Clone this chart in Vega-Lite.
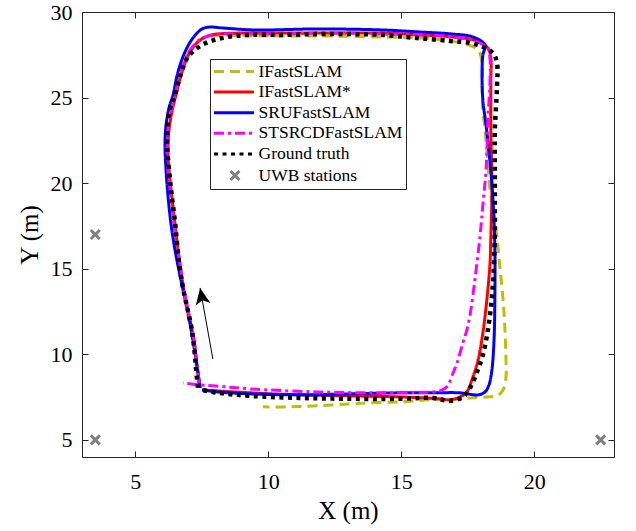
{
  "$schema": "https://vega.github.io/schema/vega-lite/v6.json",
  "width": 532,
  "height": 445,
  "autosize": {"type": "none"},
  "padding": {"left": 82, "top": 12, "right": 22, "bottom": 74},
  "background": "#ffffff",
  "config": {
    "view": {"stroke": "#262626", "strokeWidth": 1},
    "font": "Liberation Serif",
    "axis": {
      "labelFont": "Liberation Serif",
      "titleFont": "Liberation Serif",
      "labelFontSize": 22,
      "titleFontSize": 25,
      "labelColor": "#000000",
      "titleColor": "#000000",
      "titleFontWeight": "normal",
      "grid": false,
      "domain": false,
      "tickColor": "#262626",
      "tickWidth": 1
    },
    "legend": {
      "orient": "none",
      "legendX": 128,
      "legendY": 47,
      "padding": 3,
      "strokeColor": "#262626",
      "fillColor": "#ffffff",
      "labelFont": "Liberation Serif",
      "labelFontSize": 17.5,
      "labelColor": "#000000",
      "labelOffset": 14,
      "labelLimit": 0,
      "symbolSize": 256,
      "symbolStrokeWidth": 3,
      "symbolOffset": 12.5,
      "rowPadding": 2.6
    }
  },
  "datasets": {
    "traj": [
      {"series": "IFastSLAM", "i": 1, "x": 7.40, "y": 8.10},
      {"series": "IFastSLAM", "i": 2, "x": 7.29, "y": 9.38},
      {"series": "IFastSLAM", "i": 3, "x": 7.17, "y": 10.84},
      {"series": "IFastSLAM", "i": 4, "x": 6.98, "y": 12.30},
      {"series": "IFastSLAM", "i": 5, "x": 6.80, "y": 13.76},
      {"series": "IFastSLAM", "i": 6, "x": 6.61, "y": 15.63},
      {"series": "IFastSLAM", "i": 7, "x": 6.46, "y": 17.56},
      {"series": "IFastSLAM", "i": 8, "x": 6.35, "y": 19.19},
      {"series": "IFastSLAM", "i": 9, "x": 6.23, "y": 20.77},
      {"series": "IFastSLAM", "i": 10, "x": 6.20, "y": 21.94},
      {"series": "IFastSLAM", "i": 11, "x": 6.23, "y": 23.11},
      {"series": "IFastSLAM", "i": 12, "x": 6.35, "y": 24.16},
      {"series": "IFastSLAM", "i": 13, "x": 6.50, "y": 25.15},
      {"series": "IFastSLAM", "i": 14, "x": 6.72, "y": 26.50},
      {"series": "IFastSLAM", "i": 15, "x": 7.02, "y": 27.66},
      {"series": "IFastSLAM", "i": 16, "x": 7.40, "y": 28.31},
      {"series": "IFastSLAM", "i": 17, "x": 7.89, "y": 28.60},
      {"series": "IFastSLAM", "i": 18, "x": 9.50, "y": 28.60},
      {"series": "IFastSLAM", "i": 19, "x": 11.83, "y": 28.60},
      {"series": "IFastSLAM", "i": 20, "x": 14.31, "y": 28.54},
      {"series": "IFastSLAM", "i": 21, "x": 15.71, "y": 28.48},
      {"series": "IFastSLAM", "i": 22, "x": 16.57, "y": 28.36},
      {"series": "IFastSLAM", "i": 23, "x": 17.40, "y": 28.13},
      {"series": "IFastSLAM", "i": 24, "x": 17.89, "y": 27.78},
      {"series": "IFastSLAM", "i": 25, "x": 18.04, "y": 27.02},
      {"series": "IFastSLAM", "i": 26, "x": 18.04, "y": 25.62},
      {"series": "IFastSLAM", "i": 27, "x": 18.07, "y": 24.28},
      {"series": "IFastSLAM", "i": 28, "x": 18.15, "y": 23.11},
      {"series": "IFastSLAM", "i": 29, "x": 18.26, "y": 21.18},
      {"series": "IFastSLAM", "i": 30, "x": 18.34, "y": 19.60},
      {"series": "IFastSLAM", "i": 31, "x": 18.49, "y": 18.14},
      {"series": "IFastSLAM", "i": 32, "x": 18.60, "y": 16.86},
      {"series": "IFastSLAM", "i": 33, "x": 18.71, "y": 15.11},
      {"series": "IFastSLAM", "i": 34, "x": 18.83, "y": 13.18},
      {"series": "IFastSLAM", "i": 35, "x": 18.90, "y": 11.43},
      {"series": "IFastSLAM", "i": 36, "x": 18.94, "y": 9.67},
      {"series": "IFastSLAM", "i": 37, "x": 18.94, "y": 8.68},
      {"series": "IFastSLAM", "i": 38, "x": 18.83, "y": 7.92},
      {"series": "IFastSLAM", "i": 39, "x": 18.60, "y": 7.57},
      {"series": "IFastSLAM", "i": 40, "x": 18.22, "y": 7.51},
      {"series": "IFastSLAM", "i": 41, "x": 17.59, "y": 7.45},
      {"series": "IFastSLAM", "i": 42, "x": 16.83, "y": 7.34},
      {"series": "IFastSLAM", "i": 43, "x": 16.08, "y": 7.34},
      {"series": "IFastSLAM", "i": 44, "x": 14.95, "y": 7.22},
      {"series": "IFastSLAM", "i": 45, "x": 13.83, "y": 7.16},
      {"series": "IFastSLAM", "i": 46, "x": 13.07, "y": 7.10},
      {"series": "IFastSLAM", "i": 47, "x": 11.83, "y": 6.99},
      {"series": "IFastSLAM", "i": 48, "x": 10.82, "y": 6.93},
      {"series": "IFastSLAM", "i": 49, "x": 9.80, "y": 6.93},

      {"series": "IFastSLAM*", "i": 1, "x": 7.44, "y": 8.04},
      {"series": "IFastSLAM*", "i": 2, "x": 7.32, "y": 9.38},
      {"series": "IFastSLAM*", "i": 3, "x": 7.21, "y": 10.84},
      {"series": "IFastSLAM*", "i": 4, "x": 7.02, "y": 12.30},
      {"series": "IFastSLAM*", "i": 5, "x": 6.83, "y": 13.76},
      {"series": "IFastSLAM*", "i": 6, "x": 6.65, "y": 15.63},
      {"series": "IFastSLAM*", "i": 7, "x": 6.50, "y": 17.56},
      {"series": "IFastSLAM*", "i": 8, "x": 6.38, "y": 19.19},
      {"series": "IFastSLAM*", "i": 9, "x": 6.27, "y": 20.77},
      {"series": "IFastSLAM*", "i": 10, "x": 6.23, "y": 21.94},
      {"series": "IFastSLAM*", "i": 11, "x": 6.27, "y": 23.11},
      {"series": "IFastSLAM*", "i": 12, "x": 6.38, "y": 24.16},
      {"series": "IFastSLAM*", "i": 13, "x": 6.53, "y": 25.15},
      {"series": "IFastSLAM*", "i": 14, "x": 6.76, "y": 26.50},
      {"series": "IFastSLAM*", "i": 15, "x": 7.06, "y": 27.66},
      {"series": "IFastSLAM*", "i": 16, "x": 7.44, "y": 28.36},
      {"series": "IFastSLAM*", "i": 17, "x": 7.89, "y": 28.66},
      {"series": "IFastSLAM*", "i": 18, "x": 8.94, "y": 28.77},
      {"series": "IFastSLAM*", "i": 19, "x": 10.44, "y": 28.77},
      {"series": "IFastSLAM*", "i": 20, "x": 11.83, "y": 28.77},
      {"series": "IFastSLAM*", "i": 21, "x": 13.07, "y": 28.77},
      {"series": "IFastSLAM*", "i": 22, "x": 14.31, "y": 28.77},
      {"series": "IFastSLAM*", "i": 23, "x": 15.71, "y": 28.66},
      {"series": "IFastSLAM*", "i": 24, "x": 16.95, "y": 28.54},
      {"series": "IFastSLAM*", "i": 25, "x": 17.85, "y": 28.31},
      {"series": "IFastSLAM*", "i": 26, "x": 18.26, "y": 27.90},
      {"series": "IFastSLAM*", "i": 27, "x": 18.37, "y": 27.31},
      {"series": "IFastSLAM*", "i": 28, "x": 18.37, "y": 26.03},
      {"series": "IFastSLAM*", "i": 29, "x": 18.37, "y": 23.11},
      {"series": "IFastSLAM*", "i": 30, "x": 18.41, "y": 19.60},
      {"series": "IFastSLAM*", "i": 31, "x": 18.37, "y": 16.86},
      {"series": "IFastSLAM*", "i": 32, "x": 18.34, "y": 15.34},
      {"series": "IFastSLAM*", "i": 33, "x": 18.22, "y": 13.18},
      {"series": "IFastSLAM*", "i": 34, "x": 18.07, "y": 11.25},
      {"series": "IFastSLAM*", "i": 35, "x": 17.89, "y": 9.67},
      {"series": "IFastSLAM*", "i": 36, "x": 17.66, "y": 8.51},
      {"series": "IFastSLAM*", "i": 37, "x": 17.47, "y": 7.80},
      {"series": "IFastSLAM*", "i": 38, "x": 17.21, "y": 7.51},
      {"series": "IFastSLAM*", "i": 39, "x": 16.83, "y": 7.34},
      {"series": "IFastSLAM*", "i": 40, "x": 16.46, "y": 7.40},
      {"series": "IFastSLAM*", "i": 41, "x": 14.95, "y": 7.51},
      {"series": "IFastSLAM*", "i": 42, "x": 13.07, "y": 7.57},
      {"series": "IFastSLAM*", "i": 43, "x": 11.19, "y": 7.63},
      {"series": "IFastSLAM*", "i": 44, "x": 9.32, "y": 7.75},
      {"series": "IFastSLAM*", "i": 45, "x": 8.11, "y": 7.86},
      {"series": "IFastSLAM*", "i": 46, "x": 7.51, "y": 7.92},

      {"series": "SRUFastSLAM", "i": 1, "x": 7.44, "y": 8.04},
      {"series": "SRUFastSLAM", "i": 2, "x": 7.32, "y": 9.38},
      {"series": "SRUFastSLAM", "i": 3, "x": 7.17, "y": 10.84},
      {"series": "SRUFastSLAM", "i": 4, "x": 6.98, "y": 12.48},
      {"series": "SRUFastSLAM", "i": 5, "x": 6.76, "y": 14.05},
      {"series": "SRUFastSLAM", "i": 6, "x": 6.53, "y": 15.81},
      {"series": "SRUFastSLAM", "i": 7, "x": 6.35, "y": 17.56},
      {"series": "SRUFastSLAM", "i": 8, "x": 6.23, "y": 19.31},
      {"series": "SRUFastSLAM", "i": 9, "x": 6.16, "y": 20.77},
      {"series": "SRUFastSLAM", "i": 10, "x": 6.12, "y": 22.23},
      {"series": "SRUFastSLAM", "i": 11, "x": 6.16, "y": 23.40},
      {"series": "SRUFastSLAM", "i": 12, "x": 6.27, "y": 24.39},
      {"series": "SRUFastSLAM", "i": 13, "x": 6.42, "y": 25.15},
      {"series": "SRUFastSLAM", "i": 14, "x": 6.61, "y": 26.50},
      {"series": "SRUFastSLAM", "i": 15, "x": 6.87, "y": 27.66},
      {"series": "SRUFastSLAM", "i": 16, "x": 7.17, "y": 28.48},
      {"series": "SRUFastSLAM", "i": 17, "x": 7.51, "y": 29.01},
      {"series": "SRUFastSLAM", "i": 18, "x": 7.81, "y": 29.12},
      {"series": "SRUFastSLAM", "i": 19, "x": 8.26, "y": 29.07},
      {"series": "SRUFastSLAM", "i": 20, "x": 9.50, "y": 28.95},
      {"series": "SRUFastSLAM", "i": 21, "x": 11.83, "y": 29.01},
      {"series": "SRUFastSLAM", "i": 22, "x": 14.31, "y": 28.95},
      {"series": "SRUFastSLAM", "i": 23, "x": 15.71, "y": 28.83},
      {"series": "SRUFastSLAM", "i": 24, "x": 16.95, "y": 28.71},
      {"series": "SRUFastSLAM", "i": 25, "x": 17.70, "y": 28.54},
      {"series": "SRUFastSLAM", "i": 26, "x": 18.15, "y": 28.07},
      {"series": "SRUFastSLAM", "i": 27, "x": 18.07, "y": 27.49},
      {"series": "SRUFastSLAM", "i": 28, "x": 18.04, "y": 26.61},
      {"series": "SRUFastSLAM", "i": 29, "x": 18.07, "y": 24.86},
      {"series": "SRUFastSLAM", "i": 30, "x": 18.19, "y": 23.40},
      {"series": "SRUFastSLAM", "i": 31, "x": 18.34, "y": 21.18},
      {"series": "SRUFastSLAM", "i": 32, "x": 18.45, "y": 19.02},
      {"series": "SRUFastSLAM", "i": 33, "x": 18.52, "y": 16.27},
      {"series": "SRUFastSLAM", "i": 34, "x": 18.52, "y": 13.18},
      {"series": "SRUFastSLAM", "i": 35, "x": 18.49, "y": 10.84},
      {"series": "SRUFastSLAM", "i": 36, "x": 18.41, "y": 9.09},
      {"series": "SRUFastSLAM", "i": 37, "x": 18.30, "y": 8.21},
      {"series": "SRUFastSLAM", "i": 38, "x": 18.15, "y": 7.80},
      {"series": "SRUFastSLAM", "i": 39, "x": 17.89, "y": 7.63},
      {"series": "SRUFastSLAM", "i": 40, "x": 17.21, "y": 7.75},
      {"series": "SRUFastSLAM", "i": 41, "x": 16.19, "y": 7.75},
      {"series": "SRUFastSLAM", "i": 42, "x": 14.95, "y": 7.75},
      {"series": "SRUFastSLAM", "i": 43, "x": 13.07, "y": 7.69},
      {"series": "SRUFastSLAM", "i": 44, "x": 11.19, "y": 7.63},
      {"series": "SRUFastSLAM", "i": 45, "x": 9.32, "y": 7.69},
      {"series": "SRUFastSLAM", "i": 46, "x": 8.11, "y": 7.80},
      {"series": "SRUFastSLAM", "i": 47, "x": 7.51, "y": 7.92},

      {"series": "STSRCDFastSLAM", "i": 1, "x": 7.40, "y": 8.33},
      {"series": "STSRCDFastSLAM", "i": 2, "x": 7.32, "y": 9.38},
      {"series": "STSRCDFastSLAM", "i": 3, "x": 7.21, "y": 10.84},
      {"series": "STSRCDFastSLAM", "i": 4, "x": 7.02, "y": 12.30},
      {"series": "STSRCDFastSLAM", "i": 5, "x": 6.83, "y": 13.76},
      {"series": "STSRCDFastSLAM", "i": 6, "x": 6.65, "y": 15.63},
      {"series": "STSRCDFastSLAM", "i": 7, "x": 6.46, "y": 17.56},
      {"series": "STSRCDFastSLAM", "i": 8, "x": 6.35, "y": 19.19},
      {"series": "STSRCDFastSLAM", "i": 9, "x": 6.23, "y": 20.77},
      {"series": "STSRCDFastSLAM", "i": 10, "x": 6.20, "y": 21.94},
      {"series": "STSRCDFastSLAM", "i": 11, "x": 6.23, "y": 23.11},
      {"series": "STSRCDFastSLAM", "i": 12, "x": 6.35, "y": 24.16},
      {"series": "STSRCDFastSLAM", "i": 13, "x": 6.50, "y": 25.15},
      {"series": "STSRCDFastSLAM", "i": 14, "x": 6.72, "y": 26.50},
      {"series": "STSRCDFastSLAM", "i": 15, "x": 7.02, "y": 27.66},
      {"series": "STSRCDFastSLAM", "i": 16, "x": 7.40, "y": 28.36},
      {"series": "STSRCDFastSLAM", "i": 17, "x": 7.89, "y": 28.66},
      {"series": "STSRCDFastSLAM", "i": 18, "x": 8.94, "y": 28.71},
      {"series": "STSRCDFastSLAM", "i": 19, "x": 10.44, "y": 28.71},
      {"series": "STSRCDFastSLAM", "i": 20, "x": 11.83, "y": 28.77},
      {"series": "STSRCDFastSLAM", "i": 21, "x": 13.07, "y": 28.77},
      {"series": "STSRCDFastSLAM", "i": 22, "x": 14.31, "y": 28.71},
      {"series": "STSRCDFastSLAM", "i": 23, "x": 15.71, "y": 28.66},
      {"series": "STSRCDFastSLAM", "i": 24, "x": 16.95, "y": 28.54},
      {"series": "STSRCDFastSLAM", "i": 25, "x": 17.85, "y": 28.25},
      {"series": "STSRCDFastSLAM", "i": 26, "x": 18.26, "y": 27.84},
      {"series": "STSRCDFastSLAM", "i": 27, "x": 18.34, "y": 27.20},
      {"series": "STSRCDFastSLAM", "i": 28, "x": 18.34, "y": 26.03},
      {"series": "STSRCDFastSLAM", "i": 29, "x": 18.26, "y": 23.69},
      {"series": "STSRCDFastSLAM", "i": 30, "x": 18.19, "y": 20.77},
      {"series": "STSRCDFastSLAM", "i": 31, "x": 18.07, "y": 18.73},
      {"series": "STSRCDFastSLAM", "i": 32, "x": 17.96, "y": 16.86},
      {"series": "STSRCDFastSLAM", "i": 33, "x": 17.77, "y": 14.35},
      {"series": "STSRCDFastSLAM", "i": 34, "x": 17.62, "y": 12.59},
      {"series": "STSRCDFastSLAM", "i": 35, "x": 17.47, "y": 11.43},
      {"series": "STSRCDFastSLAM", "i": 36, "x": 17.32, "y": 10.67},
      {"series": "STSRCDFastSLAM", "i": 37, "x": 17.10, "y": 9.50},
      {"series": "STSRCDFastSLAM", "i": 38, "x": 16.95, "y": 8.91},
      {"series": "STSRCDFastSLAM", "i": 39, "x": 16.72, "y": 8.10},
      {"series": "STSRCDFastSLAM", "i": 40, "x": 16.46, "y": 7.86},
      {"series": "STSRCDFastSLAM", "i": 41, "x": 16.19, "y": 7.80},
      {"series": "STSRCDFastSLAM", "i": 42, "x": 14.31, "y": 7.75},
      {"series": "STSRCDFastSLAM", "i": 43, "x": 11.83, "y": 7.80},
      {"series": "STSRCDFastSLAM", "i": 44, "x": 9.32, "y": 7.98},
      {"series": "STSRCDFastSLAM", "i": 45, "x": 8.00, "y": 8.15},
      {"series": "STSRCDFastSLAM", "i": 46, "x": 7.44, "y": 8.21},
      {"series": "STSRCDFastSLAM", "i": 47, "x": 6.80, "y": 8.33},

      {"series": "Ground truth", "i": 1, "x": 7.36, "y": 8.04},
      {"series": "Ground truth", "i": 2, "x": 7.29, "y": 9.09},
      {"series": "Ground truth", "i": 3, "x": 7.25, "y": 9.85},
      {"series": "Ground truth", "i": 4, "x": 7.13, "y": 11.43},
      {"series": "Ground truth", "i": 5, "x": 6.95, "y": 12.77},
      {"series": "Ground truth", "i": 6, "x": 6.76, "y": 14.17},
      {"series": "Ground truth", "i": 7, "x": 6.61, "y": 15.92},
      {"series": "Ground truth", "i": 8, "x": 6.50, "y": 17.68},
      {"series": "Ground truth", "i": 9, "x": 6.38, "y": 19.19},
      {"series": "Ground truth", "i": 10, "x": 6.31, "y": 20.19},
      {"series": "Ground truth", "i": 11, "x": 6.23, "y": 21.53},
      {"series": "Ground truth", "i": 12, "x": 6.20, "y": 22.52},
      {"series": "Ground truth", "i": 13, "x": 6.23, "y": 23.69},
      {"series": "Ground truth", "i": 14, "x": 6.35, "y": 24.57},
      {"series": "Ground truth", "i": 15, "x": 6.50, "y": 25.15},
      {"series": "Ground truth", "i": 16, "x": 6.68, "y": 26.20},
      {"series": "Ground truth", "i": 17, "x": 6.98, "y": 27.37},
      {"series": "Ground truth", "i": 18, "x": 7.51, "y": 28.07},
      {"series": "Ground truth", "i": 19, "x": 8.26, "y": 28.48},
      {"series": "Ground truth", "i": 20, "x": 9.24, "y": 28.66},
      {"series": "Ground truth", "i": 21, "x": 10.56, "y": 28.66},
      {"series": "Ground truth", "i": 22, "x": 11.83, "y": 28.71},
      {"series": "Ground truth", "i": 23, "x": 13.07, "y": 28.71},
      {"series": "Ground truth", "i": 24, "x": 14.31, "y": 28.66},
      {"series": "Ground truth", "i": 25, "x": 15.59, "y": 28.48},
      {"series": "Ground truth", "i": 26, "x": 16.83, "y": 28.31},
      {"series": "Ground truth", "i": 27, "x": 17.59, "y": 28.19},
      {"series": "Ground truth", "i": 28, "x": 18.07, "y": 27.96},
      {"series": "Ground truth", "i": 29, "x": 18.45, "y": 27.61},
      {"series": "Ground truth", "i": 30, "x": 18.60, "y": 27.02},
      {"series": "Ground truth", "i": 31, "x": 18.60, "y": 25.62},
      {"series": "Ground truth", "i": 32, "x": 18.52, "y": 23.11},
      {"series": "Ground truth", "i": 33, "x": 18.52, "y": 21.18},
      {"series": "Ground truth", "i": 34, "x": 18.52, "y": 19.19},
      {"series": "Ground truth", "i": 35, "x": 18.52, "y": 17.27},
      {"series": "Ground truth", "i": 36, "x": 18.49, "y": 15.34},
      {"series": "Ground truth", "i": 37, "x": 18.41, "y": 13.35},
      {"series": "Ground truth", "i": 38, "x": 18.26, "y": 11.43},
      {"series": "Ground truth", "i": 39, "x": 18.07, "y": 9.97},
      {"series": "Ground truth", "i": 40, "x": 17.85, "y": 8.97},
      {"series": "Ground truth", "i": 41, "x": 17.59, "y": 8.04},
      {"series": "Ground truth", "i": 42, "x": 17.32, "y": 7.51},
      {"series": "Ground truth", "i": 43, "x": 16.83, "y": 7.28},
      {"series": "Ground truth", "i": 44, "x": 16.19, "y": 7.45},
      {"series": "Ground truth", "i": 45, "x": 14.95, "y": 7.40},
      {"series": "Ground truth", "i": 46, "x": 13.07, "y": 7.40},
      {"series": "Ground truth", "i": 47, "x": 11.19, "y": 7.45},
      {"series": "Ground truth", "i": 48, "x": 9.32, "y": 7.57},
      {"series": "Ground truth", "i": 49, "x": 8.11, "y": 7.75},
      {"series": "Ground truth", "i": 50, "x": 7.51, "y": 7.92}
    ],
    "uwb": [
      {"series": "UWB stations", "x": 3.5, "y": 17},
      {"series": "UWB stations", "x": 3.5, "y": 5},
      {"series": "UWB stations", "x": 22.5, "y": 5}
    ],
    "arrow": [
      {"x": 7.92, "y": 9.73, "x2": 7.44, "y2": 13.88}
    ]
  },
  "resolve": {"axis": {"x": "independent", "y": "independent"}},
  "layer": [
    {
      "data": {"name": "traj"},
      "transform": [{"filter": {"field": "series", "equal": "IFastSLAM"}}],
      "mark": {"type": "line", "interpolate": "catmull-rom", "strokeWidth": 3, "strokeCap": "butt"},
      "encoding": {
        "x": {"field": "x", "type": "quantitative", "scale": {"domain": [3, 23], "nice": false, "zero": false},
          "axis": {"values": [5, 10, 15, 20], "title": "X (m)", "ticks": false, "labelPadding": 14, "titlePadding": 6, "orient": "bottom"}},
        "y": {"field": "y", "type": "quantitative", "scale": {"domain": [4, 30], "nice": false, "zero": false},
          "axis": {"values": [5, 10, 15, 20, 25, 30], "title": "Y (m)", "ticks": false, "labelPadding": 10, "titlePadding": 8, "orient": "left"}},
        "order": {"field": "i", "type": "quantitative"},
        "color": {"field": "series", "type": "nominal", "title": null,
          "scale": {"domain": ["IFastSLAM", "IFastSLAM*", "SRUFastSLAM", "STSRCDFastSLAM", "Ground truth", "UWB stations"],
                    "range": ["#BFBF00", "#FF0000", "#0000FF", "#FF00FF", "#000000", "#808080"]}},
        "strokeDash": {"field": "series", "type": "nominal", "title": null,
          "scale": {"domain": ["IFastSLAM", "IFastSLAM*", "SRUFastSLAM", "STSRCDFastSLAM", "Ground truth", "UWB stations"],
                    "range": [[10, 6], [1, 0], [1, 0], [10, 4, 3, 4], [4, 4.5], [1, 0]]}}
      }
    },
    {
      "data": {"name": "traj"},
      "transform": [{"filter": {"field": "series", "equal": "IFastSLAM*"}}],
      "mark": {"type": "line", "interpolate": "catmull-rom", "strokeWidth": 3, "strokeCap": "butt"},
      "encoding": {
        "x": {"field": "x", "type": "quantitative", "scale": {"domain": [3, 23], "nice": false, "zero": false}, "axis": null},
        "y": {"field": "y", "type": "quantitative", "scale": {"domain": [4, 30], "nice": false, "zero": false}, "axis": null},
        "order": {"field": "i", "type": "quantitative"},
        "color": {"field": "series", "type": "nominal", "title": null,
          "scale": {"domain": ["IFastSLAM", "IFastSLAM*", "SRUFastSLAM", "STSRCDFastSLAM", "Ground truth", "UWB stations"],
                    "range": ["#BFBF00", "#FF0000", "#0000FF", "#FF00FF", "#000000", "#808080"]}},
        "strokeDash": {"field": "series", "type": "nominal", "title": null,
          "scale": {"domain": ["IFastSLAM", "IFastSLAM*", "SRUFastSLAM", "STSRCDFastSLAM", "Ground truth", "UWB stations"],
                    "range": [[10, 6], [1, 0], [1, 0], [10, 4, 3, 4], [4, 4.5], [1, 0]]}}
      }
    },
    {
      "data": {"name": "traj"},
      "transform": [{"filter": {"field": "series", "equal": "SRUFastSLAM"}}],
      "mark": {"type": "line", "interpolate": "catmull-rom", "strokeWidth": 3, "strokeCap": "butt"},
      "encoding": {
        "x": {"field": "x", "type": "quantitative", "scale": {"domain": [3, 23], "nice": false, "zero": false}, "axis": null},
        "y": {"field": "y", "type": "quantitative", "scale": {"domain": [4, 30], "nice": false, "zero": false}, "axis": null},
        "order": {"field": "i", "type": "quantitative"},
        "color": {"field": "series", "type": "nominal", "title": null,
          "scale": {"domain": ["IFastSLAM", "IFastSLAM*", "SRUFastSLAM", "STSRCDFastSLAM", "Ground truth", "UWB stations"],
                    "range": ["#BFBF00", "#FF0000", "#0000FF", "#FF00FF", "#000000", "#808080"]}},
        "strokeDash": {"field": "series", "type": "nominal", "title": null,
          "scale": {"domain": ["IFastSLAM", "IFastSLAM*", "SRUFastSLAM", "STSRCDFastSLAM", "Ground truth", "UWB stations"],
                    "range": [[10, 6], [1, 0], [1, 0], [10, 4, 3, 4], [4, 4.5], [1, 0]]}}
      }
    },
    {
      "data": {"name": "traj"},
      "transform": [{"filter": {"field": "series", "equal": "STSRCDFastSLAM"}}],
      "mark": {"type": "line", "interpolate": "catmull-rom", "strokeWidth": 3, "strokeCap": "butt"},
      "encoding": {
        "x": {"field": "x", "type": "quantitative", "scale": {"domain": [3, 23], "nice": false, "zero": false}, "axis": null},
        "y": {"field": "y", "type": "quantitative", "scale": {"domain": [4, 30], "nice": false, "zero": false}, "axis": null},
        "order": {"field": "i", "type": "quantitative"},
        "color": {"field": "series", "type": "nominal", "title": null,
          "scale": {"domain": ["IFastSLAM", "IFastSLAM*", "SRUFastSLAM", "STSRCDFastSLAM", "Ground truth", "UWB stations"],
                    "range": ["#BFBF00", "#FF0000", "#0000FF", "#FF00FF", "#000000", "#808080"]}},
        "strokeDash": {"field": "series", "type": "nominal", "title": null,
          "scale": {"domain": ["IFastSLAM", "IFastSLAM*", "SRUFastSLAM", "STSRCDFastSLAM", "Ground truth", "UWB stations"],
                    "range": [[10, 6], [1, 0], [1, 0], [10, 4, 3, 4], [4, 4.5], [1, 0]]}}
      }
    },
    {
      "data": {"name": "traj"},
      "transform": [{"filter": {"field": "series", "equal": "Ground truth"}}],
      "mark": {"type": "line", "interpolate": "catmull-rom", "strokeWidth": 4.5, "strokeCap": "butt"},
      "encoding": {
        "x": {"field": "x", "type": "quantitative", "scale": {"domain": [3, 23], "nice": false, "zero": false}, "axis": null},
        "y": {"field": "y", "type": "quantitative", "scale": {"domain": [4, 30], "nice": false, "zero": false}, "axis": null},
        "order": {"field": "i", "type": "quantitative"},
        "color": {"field": "series", "type": "nominal", "title": null,
          "scale": {"domain": ["IFastSLAM", "IFastSLAM*", "SRUFastSLAM", "STSRCDFastSLAM", "Ground truth", "UWB stations"],
                    "range": ["#BFBF00", "#FF0000", "#0000FF", "#FF00FF", "#000000", "#808080"]}},
        "strokeDash": {"field": "series", "type": "nominal", "title": null,
          "scale": {"domain": ["IFastSLAM", "IFastSLAM*", "SRUFastSLAM", "STSRCDFastSLAM", "Ground truth", "UWB stations"],
                    "range": [[10, 6], [1, 0], [1, 0], [10, 4, 3, 4], [4, 4.5], [1, 0]]}}
      }
    },
    {
      "data": {"name": "arrow"},
      "mark": {"type": "rule", "color": "#000000", "strokeWidth": 1},
      "encoding": {
        "x": {"field": "x", "type": "quantitative", "scale": {"domain": [3, 23], "nice": false, "zero": false}, "axis": null},
        "y": {"field": "y", "type": "quantitative", "scale": {"domain": [4, 30], "nice": false, "zero": false}, "axis": null},
        "x2": {"field": "x2"},
        "y2": {"field": "y2"}
      }
    },
    {
      "data": {"name": "arrow"},
      "mark": {"type": "point", "shape": "M0,0L0.47,1.05L0,0.8L-0.47,1.05Z", "size": 1000, "filled": true, "color": "#000000", "opacity": 1, "angle": -10.4, "strokeWidth": 0},
      "encoding": {
        "x": {"field": "x2", "type": "quantitative", "scale": {"domain": [3, 23], "nice": false, "zero": false},
          "axis": {"orient": "top", "values": [5, 10, 15, 20], "labels": false, "title": null, "ticks": true, "tickSize": -6}},
        "y": {"field": "y2", "type": "quantitative", "scale": {"domain": [4, 30], "nice": false, "zero": false},
          "axis": {"orient": "right", "values": [5, 10, 15, 20, 25, 30], "labels": false, "title": null, "ticks": true, "tickSize": -6}}
      }
    },
    {
      "data": {"name": "uwb"},
      "mark": {"type": "point", "size": 256, "filled": false, "strokeWidth": 3, "opacity": 1},
      "encoding": {
        "x": {"field": "x", "type": "quantitative", "scale": {"domain": [3, 23], "nice": false, "zero": false},
          "axis": {"orient": "bottom", "values": [5, 10, 15, 20], "labels": false, "title": null, "ticks": true, "tickSize": -6}},
        "y": {"field": "y", "type": "quantitative", "scale": {"domain": [4, 30], "nice": false, "zero": false},
          "axis": {"orient": "left", "values": [5, 10, 15, 20, 25, 30], "labels": false, "title": null, "ticks": true, "tickSize": -6}},
        "color": {"field": "series", "type": "nominal", "title": null,
          "scale": {"domain": ["IFastSLAM", "IFastSLAM*", "SRUFastSLAM", "STSRCDFastSLAM", "Ground truth", "UWB stations"],
                    "range": ["#BFBF00", "#FF0000", "#0000FF", "#FF00FF", "#000000", "#808080"]}},
        "shape": {"field": "series", "type": "nominal", "title": null,
          "scale": {"domain": ["IFastSLAM", "IFastSLAM*", "SRUFastSLAM", "STSRCDFastSLAM", "Ground truth", "UWB stations"],
                    "range": ["M-2.625,0L2.375,0", "M-2.625,0L2.375,0", "M-2.625,0L2.375,0", "M-2.625,0L2.375,0", "M-2.625,0L2.375,0", "M-0.56,-0.56L0.56,0.56M-0.56,0.56L0.56,-0.56"]}}
      }
    }
  ]
}
